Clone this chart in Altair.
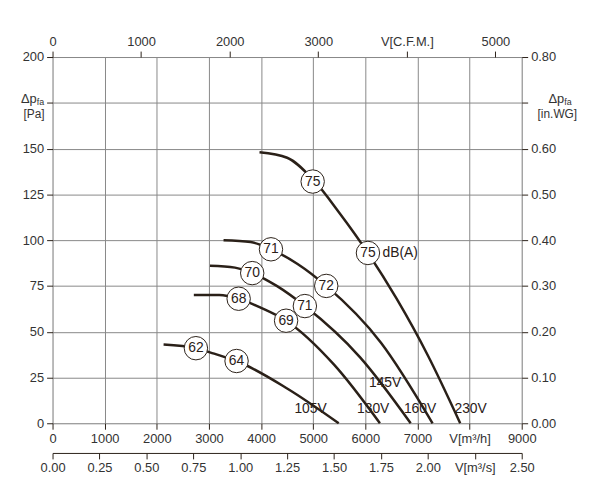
import altair as alt
import pandas as pd

# fan curves: airflow m3/h vs static pressure Pa
volts = ['230V'] * 8 + ['160V'] * 7 + ['145V'] * 7 + ['130V'] * 7 + ['105V'] * 6
flow = [3970, 4500, 5000, 5500, 6050, 6600, 7200, 7820,
        3280, 3800, 4190, 4700, 5250, 6300, 7290,
        3020, 3500, 3830, 4300, 4840, 5900, 6870,
        2710, 3200, 3570, 4000, 4480, 5400, 6280,
        2130, 2750, 3100, 3530, 4500, 5490]
press = [148, 145, 133, 115, 93, 68, 37, 0,
         100, 99, 95, 87, 75, 44, 0,
         86, 85, 82, 75, 64, 36, 0,
         70, 70, 68, 63, 56, 32, 0,
         43, 41, 38, 34, 19, 0]

# noise level circles
db_flow = [4990, 6050, 4190, 5250, 3830, 4840, 3570, 4480, 2750, 3530]
db_press = [132, 93, 95, 75, 82, 64, 68, 56, 41, 34]
db_label = ['75', '75', '71', '72', '70', '71', '68', '69', '62', '64']

# voltage labels
v_flow = [4950, 6150, 6380, 7050, 8020]
v_press = [8, 8, 22, 8, 8]
v_label = ['105V', '130V', '145V', '160V', '230V']

ink = '#2a2018'
font = 'Liberation Sans'

curves = pd.DataFrame({'v': volts, 'q': flow, 'p': press})
circles = pd.DataFrame({'q': db_flow, 'p': db_press, 't': db_label})
vlabels = pd.DataFrame({'q': v_flow, 'p': v_press, 't': v_label})

xs = alt.Scale(domain=[0, 9000], nice=False)
ys = alt.Scale(domain=[0, 200], nice=False)
axcommon = dict(labelFont=font, labelFontSize=13, labelColor='#333', domain=False,
                tickColor=ink, tickSize=6, title=None, labelPadding=3, labelOverlap=False,
                labelFlush=False)

X = alt.X('q:Q', scale=xs, axis=alt.Axis(values=list(range(0, 9001, 1000)), gridColor='#888', format='d',
          labelExpr="datum.value == 8000 ? 'V[m³/h]' : datum.label", orient='bottom', **axcommon))
Y = alt.Y('p:Q', scale=ys, axis=alt.Axis(values=list(range(0, 201, 25)), gridColor='#888',
          labelExpr="datum.value == 175 ? '' : datum.label", **axcommon))

lines = alt.Chart(curves).mark_line(color=ink, strokeWidth=2.5, interpolate='monotone').encode(
    x=X, y=Y, detail='v:N')
dots = alt.Chart(circles).mark_point(shape='circle', size=560, filled=True, fill='white',
                                     stroke=ink, strokeWidth=1, opacity=1).encode(x=X, y=Y)
dtext = alt.Chart(circles).mark_text(font=font, fontSize=14, color=ink).encode(x=X, y=Y, text='t:N')
dba = alt.Chart(pd.DataFrame({'q': [6330], 'p': [93], 't': ['dB(A)']})).mark_text(
    font=font, fontSize=14, color=ink, align='left').encode(x=X, y=Y, text='t:N')
vtext = alt.Chart(vlabels).mark_text(font=font, fontSize=14, color=ink).encode(x=X, y=Y, text='t:N')


def note(x, y, t, size, align):
    return alt.Chart(pd.DataFrame({'q': [0]})).mark_text(
        font=font, fontSize=size, color='#333', align=align).encode(
        x=alt.value(x), y=alt.value(y), text=alt.value(t))


main = alt.layer(lines, dots, dtext, dba, vtext,
                 note(-16, 42, 'Δp', 13, 'right'), note(-16, 45, 'fa', 9, 'left'),
                 note(-8, 58, '[Pa]', 12, 'right'),
                 note(501, 42, 'Δp', 13, 'left'), note(517, 45, 'fa', 9, 'left'),
                 note(490, 58, '[in.WG]', 12, 'left'))

# secondary axes
top = alt.Chart(pd.DataFrame({'c': [0], 'w': [0]})).mark_point(opacity=0).encode(
    x=alt.X('c:Q', scale=alt.Scale(domain=[0, 9000 / 1.699], nice=False),
            axis=alt.Axis(orient='top', grid=False, values=list(range(0, 5001, 1000)), format='d',
                          labelExpr="datum.value == 4000 ? 'V[C.F.M.]' : datum.label", **axcommon)),
    y=alt.Y('w:Q', scale=alt.Scale(domain=[0, 0.8], nice=False),
            axis=alt.Axis(orient='right', grid=False, values=[i / 10 for i in range(0, 9)], format='.2f',
                          labelExpr="datum.value > 0.65 && datum.value < 0.75 ? '' : datum.label", **axcommon)))
sec = alt.Chart(pd.DataFrame({'s': [0]})).mark_point(opacity=0).encode(
    x=alt.X('s:Q', scale=alt.Scale(domain=[0, 2.5], nice=False),
            axis=alt.Axis(orient='bottom', grid=False, offset=30, domain=True, domainColor=ink,
                          values=[i * 0.25 for i in range(0, 11)], format='.2f',
                          labelExpr="datum.value == 2.25 ? 'V[m³/s]' : datum.label",
                          **{k: v for k, v in axcommon.items() if k != 'domain'})))

chart = alt.layer(main, top, sec).resolve_scale(x='independent', y='independent').properties(
    width=474, height=370, autosize='none',
    padding={'left': 45, 'top': 47, 'right': 71, 'bottom': 75}
).configure_view(stroke=ink, strokeWidth=2.5).configure(background='white')

chart.save("out.html", embed_options={"renderer": "svg", "actions": False})
